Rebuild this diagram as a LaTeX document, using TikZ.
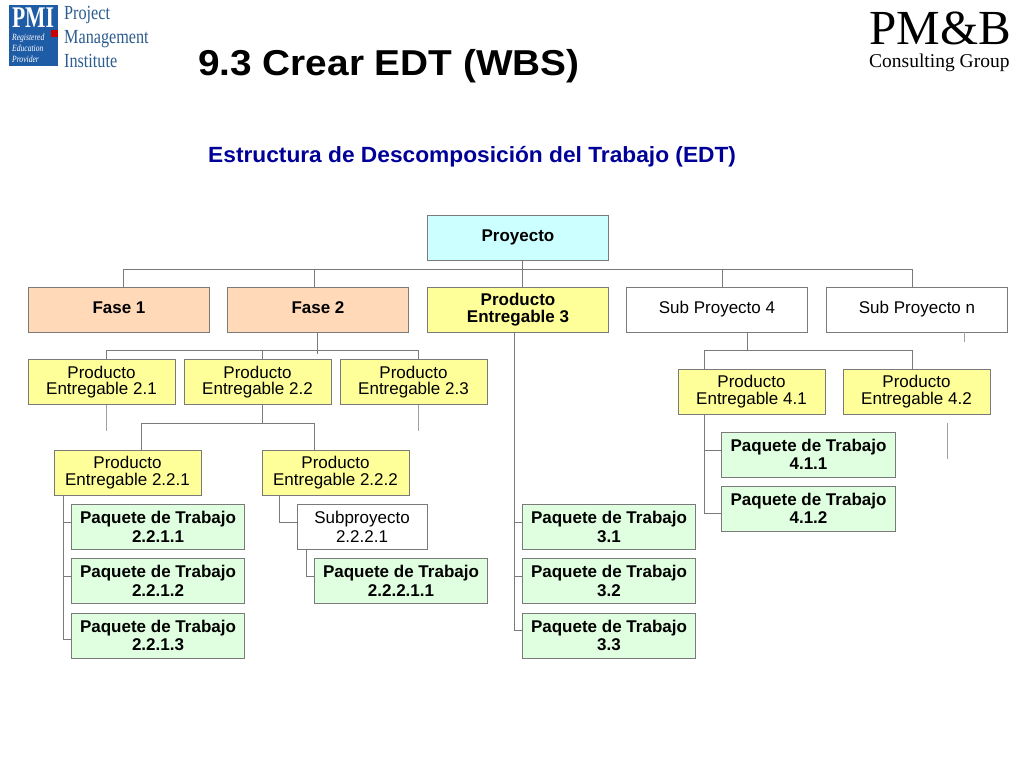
\documentclass[tikz,border=0pt]{standalone}
\usepackage{fontspec}
\setmainfont{Liberation Sans}
\newfontfamily\serifl{Liberation Serif}
\definecolor{linegray}{HTML}{7A7A7A}
\definecolor{stubgray}{HTML}{A0A0A0}
\definecolor{cyanfill}{HTML}{CCFFFF}
\definecolor{fasefill}{HTML}{FFD9B8}
\definecolor{yellowfill}{HTML}{FFFF99}
\definecolor{greenfill}{HTML}{E0FFE0}
\definecolor{pmiblue}{HTML}{1F5CA6}
\definecolor{pmitext}{HTML}{2C5D8F}
\definecolor{titleblue}{HTML}{000099}
\tikzset{
  x=1pt,y=-1pt,
  box/.style={draw=linegray,line width=1pt,inner sep=0pt,outer sep=0pt,align=center,text=black,
    font=\fontsize{17}{16.5}\selectfont},
  boldbox/.style={box,font=\fontsize{17}{16.5}\selectfont\bfseries},
  wide/.style={minimum width=181.5pt,minimum height=45pt},
  mid/.style={minimum width=147pt,minimum height=45pt},
  pack/.style={box,font=\fontsize{17}{18.5}\selectfont\bfseries,fill=greenfill,minimum width=173.5pt,minimum height=45pt},
  subbox/.style={box,font=\fontsize{17}{18.5}\selectfont,fill=white,minimum width=130pt,minimum height=45pt},
  deliv/.style={box,fill=yellowfill,mid},
  link/.style={draw=linegray,line width=1pt},
  stub/.style={draw=stubgray,line width=1pt},
  logotext/.style={inner sep=0pt,anchor=base west,text=pmitext,xscale=.81,
    font=\fontsize{20}{20}\serifl},
  pmbtext/.style={inner sep=0pt,anchor=base west,text=black},
  regtext/.style={inner sep=0pt,anchor=base west,text=white,xscale=.8,
    font=\fontsize{9.5}{9.5}\serifl\itshape}
}
\begin{document}
\begin{tikzpicture}
\useasboundingbox[fill=white] (0,0) rectangle (1024,768);
% logos
\fill[pmiblue] (9,5) rectangle (58,66);
\fill[red!80!black] (51,30) rectangle (58,37);
\node[inner sep=0pt,anchor=base,text=white,font=\fontsize{30}{30}\serifl\bfseries,xscale=.72] (pmi) at (33,28) {PMI};
\node[regtext] (r1) at (12,41) {Registered};
\node[regtext] (r2) at (12,52) {Education};
\node[regtext] (r3) at (12,63) {Provider};
\node[logotext] (l1) at (64,20) {Project};
\node[logotext] (l2) at (64,44) {Management};
\node[logotext] (l3) at (64,67) {Institute};
\node[pmbtext,font=\fontsize{49}{50}\serifl] (pmb) at (869,45) {PM\&B};
\node[pmbtext,font=\fontsize{19.5}{20}\serifl] (cg) at (869,67) {Consulting Group};
% titles
\node[inner sep=0pt,anchor=base west,xscale=1.077,text=black,font=\fontsize{36}{36}\selectfont\bfseries] (title) at (198,75) {9.3 Crear EDT (WBS)};
\node[inner sep=0pt,anchor=base west,xscale=1.033,text=titleblue,font=\fontsize{22}{22}\selectfont\bfseries] (sub) at (208,162) {Estructura de Descomposición del Trabajo (EDT)};
% boxes
\node[boldbox,wide,fill=cyanfill] (proy) at (518,237.5) {Proyecto};
\node[boldbox,wide,fill=fasefill] (f1) at (119,309.5) {Fase 1\vphantom{y}};
\node[boldbox,wide,fill=fasefill] (f2) at (318,309.5) {Fase 2\vphantom{y}};
\node[boldbox,wide,fill=yellowfill] (p3) at (518,309.5) {Producto\\Entregable 3};
\node[box,wide,fill=white] (s4) at (717,309.5) {Sub Proyecto 4};
\node[box,wide,fill=white] (sn) at (917,309.5) {Sub Proyecto n};
\node[deliv] (p21) at (101.5,382) {Producto\\Entregable 2.1};
\node[deliv] (p22) at (257.5,382) {Producto\\Entregable 2.2};
\node[deliv] (p23) at (413.5,382) {Producto\\Entregable 2.3};
\node[deliv] (p41) at (751.5,391.5) {Producto\\Entregable 4.1};
\node[deliv] (p42) at (916.5,391.5) {Producto\\Entregable 4.2};
\node[deliv] (p221) at (127.5,472.5) {Producto\\Entregable 2.2.1};
\node[deliv] (p222) at (335.5,472.5) {Producto\\Entregable 2.2.2};
\node[pack] (t2211) at (158,527) {Paquete de Trabajo\\2.2.1.1};
\node[pack] (t2212) at (158,581) {Paquete de Trabajo\\2.2.1.2};
\node[pack] (t2213) at (158,635.5) {Paquete de Trabajo\\2.2.1.3};
\node[subbox] (s2221) at (362,527) {Subproyecto\\2.2.2.1};
\node[pack] (t22211) at (401,581) {Paquete de Trabajo\\2.2.2.1.1};
\node[pack] (t31) at (609,527) {Paquete de Trabajo\\3.1};
\node[pack] (t32) at (609,581) {Paquete de Trabajo\\3.2};
\node[pack] (t33) at (609,635.5) {Paquete de Trabajo\\3.3};
\node[pack] (t411) at (808.5,454.5) {Paquete de Trabajo\\4.1.1};
\node[pack] (t412) at (808.5,508.5) {Paquete de Trabajo\\4.1.2};
% heights at which the side branches meet the boxes
\coordinate (ya) at (0,522.5);
\coordinate (yb) at (0,576);
\coordinate (yc) at (0,630);
\coordinate (yd) at (0,639.5);
\coordinate (ye) at (0,450);
\coordinate (yf) at (0,513);
% bus coordinates
\coordinate (b0) at (522,269);
\coordinate (d1) at (123,269);
\coordinate (d2) at (314,269);
\coordinate (d4) at (722,269);
\coordinate (d5) at (912,269);
\draw[link] (proy.south -| b0) -- (b0);
\draw[link] (d1 |- f1.north) -- (d1) -- (d5) -- (d5 |- sn.north);
\draw[link] (d2) -- (d2 |- f2.north);
\draw[link] (b0) -- (b0 |- p3.north);
\draw[link] (d4) -- (d4 |- s4.north);
% Fase 2
\coordinate (e0) at (317,354);
\coordinate (e1) at (106,350.5);
\coordinate (e2) at (262,350.5);
\coordinate (e3) at (418,350.5);
\draw[link] (f2.south -| e0) -- (e0);
\draw[link] (e1 |- p21.north) -- (e1) -- (e3) -- (e3 |- p23.north);
\draw[link] (e2) -- (e2 |- p22.north);
% free stubs
\coordinate (u1) at (106,431);
\coordinate (u2) at (418,431);
\coordinate (u3) at (964,342);
\coordinate (u4) at (947,423);
\coordinate (u5) at (947,459);
\draw[stub] (p21.south -| u1) -- (u1);
\draw[stub] (p23.south -| u2) -- (u2);
\draw[stub] (sn.south -| u3) -- (u3);
\draw[stub] (u4) -- (u5);
% 2.2
\coordinate (g0) at (262,423);
\coordinate (g1) at (141,423);
\coordinate (g2) at (314,423);
\draw[link] (p22.south -| g0) -- (g0);
\draw[link] (g1 |- p221.north) -- (g1) -- (g2) -- (g2 |- p222.north);
% 2.2.1
\coordinate (h) at (63,495);
\draw[link] (p221.south -| h) -- (h |- yd) -- (t2213.west |- yd);
\draw[link] (h |- ya) -- (t2211.west |- ya);
\draw[link] (h |- yb) -- (t2212.west |- yb);
% 2.2.2
\coordinate (k) at (279,495);
\draw[link] (p222.south -| k) -- (k |- ya) -- (s2221.west |- ya);
\coordinate (m) at (306,549);
\draw[link] (s2221.south -| m) -- (m |- yb) -- (t22211.west |- yb);
% Entregable 3
\coordinate (n) at (514,332);
\draw[link] (p3.south -| n) -- (n |- yc) -- (t33.west |- yc);
\draw[link] (n |- ya) -- (t31.west |- ya);
\draw[link] (n |- yb) -- (t32.west |- yb);
% Sub Proyecto 4
\coordinate (q0) at (747,350.5);
\coordinate (q1) at (704,350.5);
\coordinate (q2) at (912,350.5);
\draw[link] (s4.south -| q0) -- (q0);
\draw[link] (q1 |- p41.north) -- (q1) -- (q2) -- (q2 |- p42.north);
\draw[link] (p41.south -| q1) -- (q1 |- yf) -- (t412.west |- yf);
\draw[link] (q1 |- ye) -- (t411.west |- ye);
\end{tikzpicture}
\end{document}
